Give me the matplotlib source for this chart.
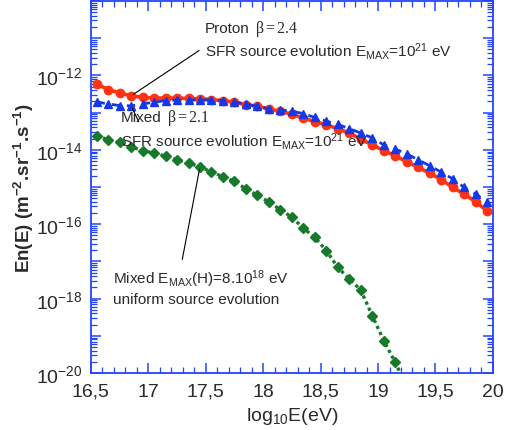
import numpy as np
import matplotlib
matplotlib.use("Agg")
import matplotlib.pyplot as plt
from matplotlib.ticker import FixedLocator, LogLocator, FuncFormatter, MultipleLocator, NullFormatter

plt.rcParams['font.family'] = ['Liberation Sans', 'DejaVu Sans']
plt.rcParams['mathtext.fontset'] = 'custom'
plt.rcParams['mathtext.rm'] = 'Liberation Serif'
plt.rcParams['mathtext.it'] = 'Liberation Serif:italic'
plt.rcParams['mathtext.bf'] = 'Liberation Serif:bold'

# log10 of energy (eV)
log_e = np.round(np.arange(16.55, 19.96, 0.1), 2)

# log10 of E*n(E) for each scenario
proton_log_flux = [-12.23, -12.38, -12.47, -12.55, -12.59, -12.61, -12.61, -12.61,
                   -12.62, -12.63, -12.65, -12.68, -12.72, -12.79, -12.83, -12.90,
                   -12.97, -13.04, -13.15, -13.24, -13.33, -13.43, -13.55, -13.71,
                   -13.87, -14.02, -14.16, -14.32, -14.47, -14.63, -14.80, -15.01,
                   -15.19, -15.40, -15.64]
mixed_log_flux = [-12.71, -12.77, -12.81, -12.82, -12.77, -12.72, -12.68, -12.66,
                  -12.66, -12.66, -12.66, -12.68, -12.72, -12.77, -12.83, -12.90,
                  -12.93, -12.96, -13.03, -13.13, -13.23, -13.32, -13.43, -13.55,
                  -13.68, -13.87, -13.98, -14.11, -14.27, -14.43, -14.60, -14.78,
                  -15.01, -15.19, -15.41]
mixed_low_emax_log_e = np.round(np.arange(16.55, 19.26, 0.1), 2)
mixed_low_emax_log_flux = [-13.62, -13.73, -13.80, -13.92, -14.02, -14.09, -14.17,
                           -14.27, -14.36, -14.45, -14.60, -14.72, -14.85, -15.05,
                           -15.22, -15.40, -15.61, -15.81, -16.11, -16.35, -16.71,
                           -17.16, -17.47, -17.77, -18.46, -19.13, -19.71, -20.38]

x_ticks = [16.5, 17, 17.5, 18, 18.5, 19, 19.5, 20]
x_tick_labels = ["16,5", "17", "17,5", "18", "18,5", "19", "19,5", "20"]
y_label_exponents = [-20, -18, -16, -14, -12]

red = '#ff3312'
blue = '#1438e6'
green = '#177a2b'
axis_blue = '#2244ff'
text_col = '#2a2a2a'

fig = plt.figure(figsize=(5.05, 4.31), dpi=100)
ax = fig.add_axes([0.180, 0.132, 0.796, 0.8635])

ax.plot(log_e, 10.0 ** np.array(proton_log_flux), '-', color=red, lw=2.6,
        marker='o', ms=6, mec=red, mfc=red, zorder=3)
ax.plot(log_e, 10.0 ** np.array(mixed_log_flux), color=blue, lw=2.0,
        ls=(0, (3, 2.5)), marker='^', ms=6.3, mec=blue, mfc=blue, zorder=4)
ax.plot(mixed_low_emax_log_e, 10.0 ** np.array(mixed_low_emax_log_flux),
        color=green, lw=2.4, ls=(0, (1, 1)), marker='D', ms=4.7,
        mec=green, mfc=green, zorder=3)

ax.set_yscale('log')
ax.set_xlim(16.5, 20)
ax.set_ylim(1e-20, 1e-10)

ax.xaxis.set_major_locator(FixedLocator(x_ticks))
ax.set_xticklabels(x_tick_labels)
ax.xaxis.set_minor_locator(MultipleLocator(0.1))

ax.yaxis.set_major_locator(LogLocator(base=10, numticks=20))
ax.yaxis.set_minor_locator(LogLocator(base=10, subs=np.arange(2, 10), numticks=20))
ax.yaxis.set_minor_formatter(NullFormatter())


def y_fmt(v, pos):
    e = int(round(np.log10(v)))
    if e in y_label_exponents:
        return r"$\mathregular{10^{%d}}$" % e
    return ""


ax.yaxis.set_major_formatter(FuncFormatter(y_fmt))

for s in ax.spines.values():
    s.set_color(axis_blue)
    s.set_linewidth(1.3)
ax.tick_params(which='both', direction='in', top=True, right=True,
               color=axis_blue, labelcolor=text_col, labelsize=14)
ax.tick_params(which='major', length=7, width=1.1)
ax.tick_params(which='minor', length=4, width=0.9)
ax.tick_params(axis='x', pad=7)
ax.tick_params(axis='y', pad=6)

ax.set_xlabel(r"log$\mathregular{_{10}}$E(eV)", fontsize=14, color=text_col, labelpad=4)
ax.set_ylabel(r"En(E) (m$\mathregular{^{-2}}$.sr$\mathregular{^{-1}}$.s$\mathregular{^{-1}}$)",
              fontsize=13.5, fontweight='bold', color=text_col, labelpad=0)

fs = 11
# Proton annotation
ax.text(0.284, 0.927, "Proton", transform=ax.transAxes, fontsize=fs,
        color=text_col, va='center', ha='left')
ax.text(0.408, 0.927, r"$\mathrm{\beta=2.4}$", transform=ax.transAxes, fontsize=fs + 0.5,
        color=text_col, va='center', ha='left')
ax.text(0.284, 0.866,
        r"SFR source evolution E$\mathregular{_{MAX}}$=10$\mathregular{^{21}}$ eV",
        transform=ax.transAxes, fontsize=fs, color=text_col, va='center', ha='left')
i_p = 3
ax.annotate("", xy=(log_e[i_p], 10.0 ** proton_log_flux[i_p]),
            xytext=(0.275, 0.871), textcoords='axes fraction',
            arrowprops=dict(arrowstyle='-', color='black', lw=0.8), zorder=5)

# Mixed (beta = 2.1) annotation
ax.text(0.075, 0.688, "Mixed", transform=ax.transAxes, fontsize=fs,
        color=text_col, va='center', ha='left')
ax.text(0.189, 0.688, r"$\mathrm{\beta=2.1}$", transform=ax.transAxes, fontsize=fs + 0.5,
        color=text_col, va='center', ha='left')
ax.text(0.075, 0.624,
        r"SFR source evolution E$\mathregular{_{MAX}}$=10$\mathregular{^{21}}$ eV",
        transform=ax.transAxes, fontsize=fs, color=text_col, va='center', ha='left')
ax.annotate("", xy=(log_e[i_p], 10.0 ** mixed_log_flux[i_p]),
            xytext=(0.122, 0.669), textcoords='axes fraction',
            arrowprops=dict(arrowstyle='-', color='black', lw=0.8), zorder=5)

# Mixed, low maximum energy annotation
ax.text(0.055, 0.255,
        r"Mixed E$\mathregular{_{MAX}}$(H)=8.10$\mathregular{^{18}}$ eV",
        transform=ax.transAxes, fontsize=fs, color=text_col, va='center', ha='left')
ax.text(0.055, 0.200, "uniform source evolution", transform=ax.transAxes,
        fontsize=fs, color=text_col, va='center', ha='left')
i_g = 9
ax.annotate("", xy=(mixed_low_emax_log_e[i_g], 10.0 ** mixed_low_emax_log_flux[i_g]),
            xytext=(0.226, 0.298), textcoords='axes fraction',
            arrowprops=dict(arrowstyle='-', color='black', lw=0.8), zorder=5)

fig.savefig("out.png", dpi=100)
